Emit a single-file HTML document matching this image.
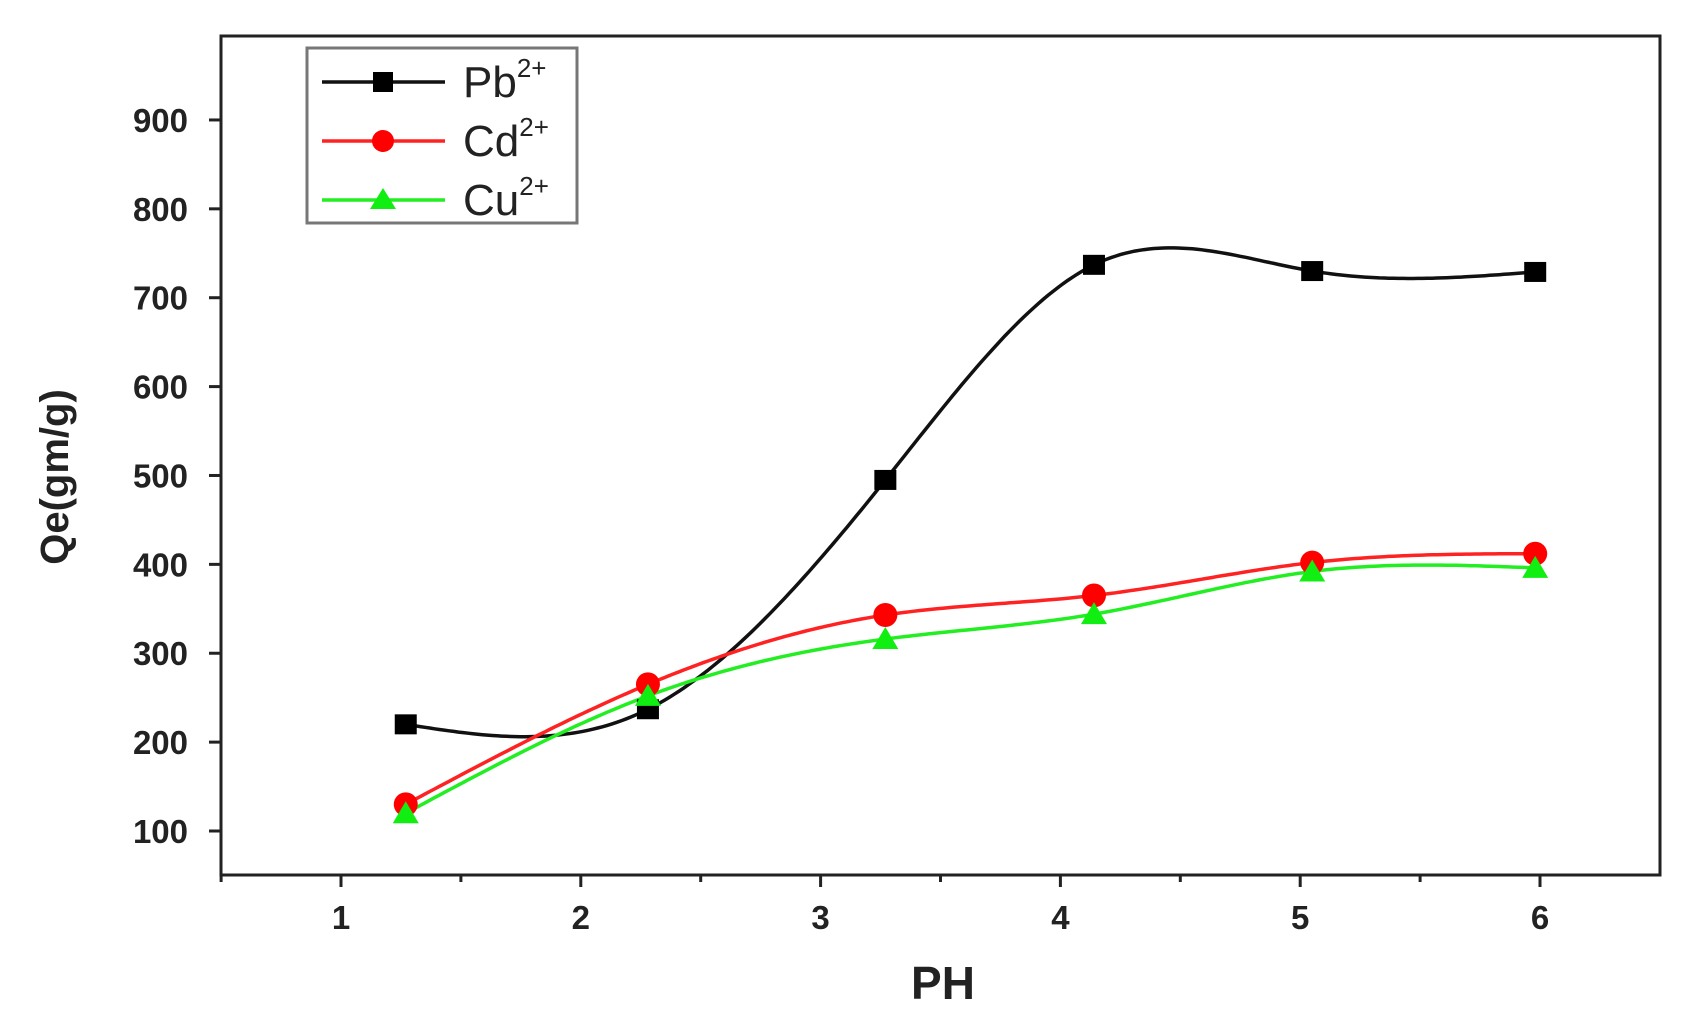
<!DOCTYPE html>
<html><head><meta charset="utf-8"><style>
html,body{margin:0;padding:0;background:#fff;}
svg{display:block;font-family:"Liberation Sans",Arial,sans-serif;}
</style></head><body>
<svg id="s" width="1691" height="1017" viewBox="0 0 1691 1017" xmlns="http://www.w3.org/2000/svg">
<rect width="1691" height="1017" fill="#fff"/>
<g id="curves"></g>
<rect x="221" y="36" width="1439" height="839" fill="none" stroke="#222" stroke-width="3"/>
<g stroke="#222" stroke-width="3" id="ticks"></g>
<g font-weight="bold" font-size="33" fill="#222" text-anchor="end" id="ylab"></g>
<g font-weight="bold" font-size="33" fill="#222" text-anchor="middle" id="xlab"></g>
<text x="943" y="999" font-weight="bold" font-size="46" text-anchor="middle" fill="#222">PH</text>
<text transform="translate(68,477) rotate(-90)" font-weight="bold" font-size="40" text-anchor="middle" fill="#222">Qe(gm/g)</text>
<g id="markers"></g>
<rect x="307" y="48" width="270" height="175" fill="#fff" stroke="#777" stroke-width="3"/>
<g stroke-width="3.5">
<line x1="322" y1="82" x2="445" y2="82" stroke="#111"/>
<rect x="373" y="72" width="20" height="20" fill="#000"/>
<line x1="322" y1="141" x2="445" y2="141" stroke="#f22"/>
<circle cx="383" cy="141" r="11" fill="#f00"/>
<line x1="322" y1="200" x2="445" y2="200" stroke="#2e2"/>
<polygon points="383,188 396,209 370,209" fill="#1e1"/>
</g>
<g font-size="44" fill="#222">
<text x="463" y="97">Pb<tspan font-size="26" dy="-20">2+</tspan></text>
<text x="463" y="156">Cd<tspan font-size="26" dy="-20">2+</tspan></text>
<text x="463" y="215">Cu<tspan font-size="26" dy="-20">2+</tspan></text>
</g>
</svg>
<script>
var NS="http://www.w3.org/2000/svg";
function X(x){return 341+(x-1)*239.8;}
function Y(v){return 831-(v-100)*0.8888;}
function el(t,a,p){var e=document.createElementNS(NS,t);for(var k in a)e.setAttribute(k,a[k]);if(p)p.appendChild(e);return e;}
var ticks=document.getElementById('ticks'),yl=document.getElementById('ylab'),xl=document.getElementById('xlab');
for(var v=100;v<=900;v+=100){var y=Y(v);el('line',{x1:209,y1:y,x2:221,y2:y},ticks);var t=el('text',{x:188,y:y+12},yl);t.textContent=v;}
for(var x=1;x<=6;x++){var xx=X(x);el('line',{x1:xx,y1:875,x2:xx,y2:887},ticks);var t=el('text',{x:xx,y:929},xl);t.textContent=x;
 if(x<6){el('line',{x1:X(x+0.5),y1:875,x2:X(x+0.5),y2:882},ticks);}}
el('line',{x1:X(0.5),y1:875,x2:X(0.5),y2:882},ticks);
var xs=[1.27,2.28,3.27,4.14,5.05,5.98];
var data=[[220,237,495,737,730,729],[130,265,343,365,402,412],[120,252,316,344,392,396]];
var cols=['#111','#f22','#2e2'];
function spline(xs,ys){var n=xs.length,h=[],a=[],l=[1],mu=[0],z=[0],c=new Array(n).fill(0),b=[],d=[];
for(var i=0;i<n-1;i++)h[i]=xs[i+1]-xs[i];
for(var i=1;i<n-1;i++)a[i]=3/h[i]*(ys[i+1]-ys[i])-3/h[i-1]*(ys[i]-ys[i-1]);
for(var i=1;i<n-1;i++){l[i]=2*(xs[i+1]-xs[i-1])-h[i-1]*mu[i-1];mu[i]=h[i]/l[i];z[i]=(a[i]-h[i-1]*z[i-1])/l[i];}
for(var j=n-2;j>=0;j--){c[j]=(j>0?z[j]:0)-mu[j]*c[j+1];if(j==0)c[0]=0;b[j]=(ys[j+1]-ys[j])/h[j]-h[j]*(c[j+1]+2*c[j])/3;d[j]=(c[j+1]-c[j])/(3*h[j]);}
return function(x){var i=0;while(i<n-2&&x>xs[i+1])i++;var dx=x-xs[i];return ys[i]+b[i]*dx+c[i]*dx*dx+d[i]*dx*dx*dx;};}
var cg=document.getElementById('curves'),mg=document.getElementById('markers');
data.forEach(function(ys,k){var f=spline(xs,ys),p='';for(var x=xs[0];x<=xs[5]+1e-6;x+=0.02){p+=(p?'L':'M')+X(x).toFixed(1)+','+Y(f(x)).toFixed(1);}
el('path',{d:p,fill:'none',stroke:cols[k],'stroke-width':3.5},cg);});
xs.forEach(function(x,i){var cx=X(x);
var y=Y(data[0][i]);el('rect',{x:cx-11,y:y-10,width:22,height:20,fill:'#000'},mg);
y=Y(data[1][i]);el('circle',{cx:cx,cy:y,r:12,fill:'#f00'},mg);
y=Y(data[2][i]);el('polygon',{points:cx+','+(y-12)+' '+(cx+13)+','+(y+10)+' '+(cx-13)+','+(y+10),fill:'#1e1'},mg);});
</script>
</body></html>
